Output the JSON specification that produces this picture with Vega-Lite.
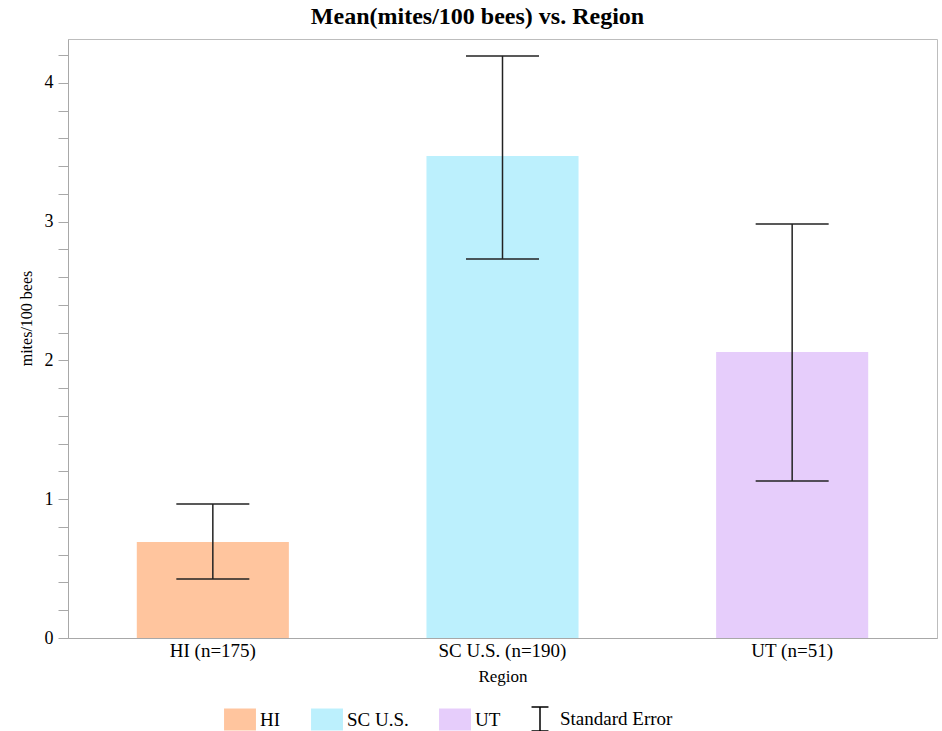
{
  "$schema": "https://vega.github.io/schema/vega-lite/v6.json",
  "autosize": "none",
  "width": 869,
  "height": 599,
  "padding": {"left": 68, "top": 39, "right": 5, "bottom": 93},
  "background": "white",
  "title": {"text": "Mean(mites/100 bees) vs. Region", "font": "Liberation Serif", "fontSize": 24, "fontWeight": "bold", "color": "black", "anchor": "middle", "frame": "bounds", "offset": 10},
  "data": {"values": [
    {"Region": "HI", "label": "HI (n=175)", "mean": 0.692, "lower": 0.425, "upper": 0.966},
    {"Region": "SC U.S.", "label": "SC U.S. (n=190)", "mean": 3.474, "lower": 2.732, "upper": 4.195},
    {"Region": "UT", "label": "UT (n=51)", "mean": 2.061, "lower": 1.132, "upper": 2.984}
  ]},
  "config": {"view": {"stroke": "#bdbdbd", "strokeWidth": 1}, "font": "Liberation Serif"},
  "encoding": {
    "x": {"field": "label", "type": "nominal", "sort": null,
      "scale": {"paddingInner": 0, "paddingOuter": 0},
      "axis": {"title": "Region", "labelAngle": 0, "ticks": false, "domainColor": "#a8a8a8", "labelFont": "Liberation Serif", "labelFontSize": 19, "labelColor": "black", "labelPadding": 3, "titleFont": "Liberation Serif", "titleFontSize": 17, "titleFontWeight": "normal", "titleColor": "black", "titlePadding": 8}}
  },
  "layer": [
    {
      "mark": {"type": "bar", "width": {"band": 0.525}},
      "encoding": {
        "y": {"field": "mean", "type": "quantitative",
          "scale": {"domain": [0, 4.317], "nice": false, "zero": true},
          "axis": {"title": "mites/100 bees", "grid": false,
            "values": [0, 0.2, 0.4, 0.6, 0.8, 1, 1.2, 1.4, 1.6, 1.8, 2, 2.2, 2.4, 2.6, 2.8, 3, 3.2, 3.4, 3.6, 3.8, 4, 4.2],
            "tickCount": 50,
            "labelExpr": "abs(datum.value - round(datum.value)) < 0.001 ? format(datum.value, 'd') : ''",
            "labelOverlap": false,
            "tickSize": 10, "tickColor": "#a8a8a8", "domainColor": "#a8a8a8",
            "labelFont": "Liberation Serif", "labelFontSize": 18, "labelColor": "black", "labelPadding": 5,
            "titleFont": "Liberation Serif", "titleFontSize": 16, "titleFontWeight": "normal", "titleColor": "black", "titlePadding": 10,
            "titleY": 279,
            "encode": {"ticks": {"update": {"x2": {"signal": "abs(datum.value - round(datum.value)) < 0.001 ? -10 : -5"}}}}}},
        "color": {"field": "Region", "type": "nominal",
          "scale": {"domain": ["HI", "SC U.S.", "UT", "Standard Error"], "range": ["#ffc59e", "#bcf0fd", "#e6cdfb", "#000000"]},
          "legend": {"title": null, "orient": "none", "legendX": 160, "legendY": 668, "direction": "horizontal",
            "symbolSize": 484, "symbolType": "square", "labelFont": "Liberation Serif", "labelFontSize": 19, "labelColor": "black",
            "labelOffset": 8, "columnPadding": 27, "padding": 0,
            "encode": {"symbols": {"update": {
              "shape": {"signal": "datum.value === 'Standard Error' ? 'M-0.77,-1.09H0.77M0,-1.09V1.09M-0.77,1.09H0.77' : 'M-1.45,-1H1.45V1H-1.45Z'"},
              "fill": {"signal": "datum.value === 'Standard Error' ? 'transparent' : scale('color', datum.value)"},
              "stroke": {"signal": "datum.value === 'Standard Error' ? 'black' : 'transparent'"},
              "strokeWidth": {"value": 1.5},
              "opacity": {"value": 1},
              "fillOpacity": {"value": 1}}}}}}
      }
    },
    {
      "mark": {"type": "rule", "color": "#222222", "strokeWidth": 1.5},
      "encoding": {
        "y": {"field": "lower", "type": "quantitative", "axis": {"title": "mites/100 bees"}},
        "y2": {"field": "upper"}
      }
    },
    {
      "mark": {"type": "tick", "color": "#222222", "size": 73, "thickness": 1.5, "opacity": 1},
      "encoding": {
        "y": {"field": "upper", "type": "quantitative", "axis": {"title": "mites/100 bees"}}
      }
    },
    {
      "mark": {"type": "tick", "color": "#222222", "size": 73, "thickness": 1.5, "opacity": 1},
      "encoding": {
        "y": {"field": "lower", "type": "quantitative", "axis": {"title": "mites/100 bees"}}
      }
    }
  ]
}
